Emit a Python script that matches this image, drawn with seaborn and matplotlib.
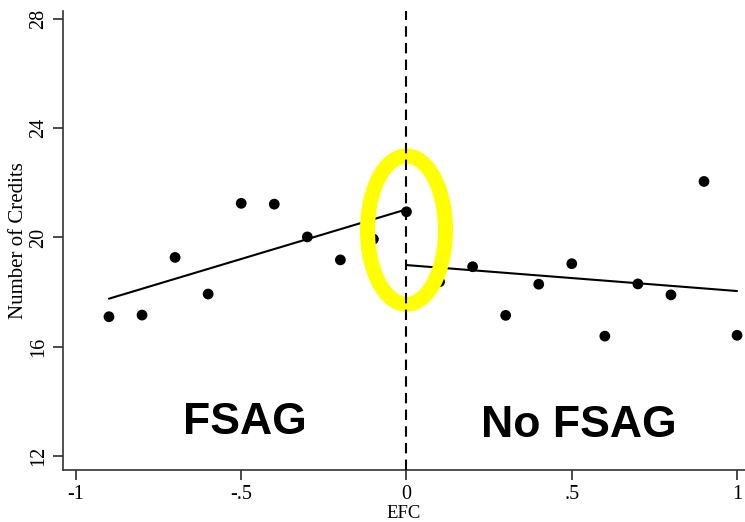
"""
Regression discontinuity plot: number of credits vs. EFC, FSAG cutoff at 0.
"""

import numpy as np
import pandas as pd
import matplotlib
matplotlib.use("Agg")
import matplotlib.pyplot as plt
from matplotlib.patches import Ellipse
import seaborn as sns

# -- Data ---------------------------------------------------------------------

efc_left = [-0.9, -0.8, -0.7, -0.6, -0.5, -0.4, -0.3, -0.2, -0.1, 0.0]
credits_left = [17.10, 17.16, 19.27, 17.93, 21.25, 21.22, 20.02, 19.18, 19.94, 20.94]

efc_right = [0.1, 0.2, 0.3, 0.4, 0.5, 0.6, 0.7, 0.8, 0.9, 1.0]
credits_right = [18.38, 18.93, 17.15, 18.29, 19.04, 16.39, 18.30, 17.90, 22.05, 16.42]

# fitted lines (end points)
fit_left_x = [-0.9, 0.0]
fit_left_y = [17.76, 21.03]
fit_right_x = [0.0, 1.0]
fit_right_y = [18.99, 18.04]

x_ticks = [-1, -0.5, 0, 0.5, 1]
x_tick_labels = ["-1", "-.5", "0", ".5", "1"]
y_ticks = [12, 16, 20, 24, 28]

# -- Style --------------------------------------------------------------------

sns.set_theme(style="ticks")
plt.rcParams.update({
    "font.family": ["Liberation Serif", "DejaVu Serif"],
    "text.color": "black",
    "axes.labelcolor": "black",
    "axes.edgecolor": "#333333",
    "axes.linewidth": 1.2,
    "xtick.color": "#333333",
    "ytick.color": "#333333",
    "xtick.labelcolor": "black",
    "ytick.labelcolor": "black",
    "xtick.major.size": 7,
    "ytick.major.size": 7,
})

points = pd.DataFrame({
    "efc": efc_left + efc_right,
    "credits": credits_left + credits_right,
})

fig = plt.figure(figsize=(7.45, 5.22), dpi=100)
ax = fig.add_axes([0.0846, 0.0996, 0.9154, 0.8794])

sns.lineplot(x=fit_left_x, y=fit_left_y, ax=ax, color="black", linewidth=1.5, zorder=2)
sns.lineplot(x=fit_right_x, y=fit_right_y, ax=ax, color="black", linewidth=1.5, zorder=2)
sns.scatterplot(data=points, x="efc", y="credits", ax=ax, color="black",
                s=60, edgecolor="none", zorder=3)

# highlight ring around the cutoff
ring = Ellipse((0.0, 20.27), width=0.236, height=5.43, fill=False,
               edgecolor="#FFFF00", linewidth=10.8, zorder=4)
ax.add_patch(ring)

ax.axvline(0, color="black", linewidth=1.5, linestyle=(0, (5, 3)), zorder=5)

ax.text(-0.49, 13.22, "FSAG", fontsize=32, fontweight="bold", color="black",
        family=["Liberation Sans", "DejaVu Sans"], ha="center", va="center")
ax.text(0.52, 13.11, "No FSAG", fontsize=32, fontweight="bold", color="black",
        family=["Liberation Sans", "DejaVu Sans"], ha="center", va="center")

ax.set_xlim(-1.039, 1.024)
ax.set_ylim(11.49, 28.29)
ax.set_xticks(x_ticks)
ax.set_xticklabels(x_tick_labels, fontsize=14.5)
ax.set_yticks(y_ticks)
ax.set_yticklabels([str(v) for v in y_ticks], fontsize=14.5, rotation=90, va="center")
ax.set_xlabel("EFC", fontsize=13.5, labelpad=1)
ax.set_ylabel("Number of Credits", fontsize=15, labelpad=1)
sns.despine(ax=ax)

fig.savefig("out.png", dpi=100)
plt.close(fig)
